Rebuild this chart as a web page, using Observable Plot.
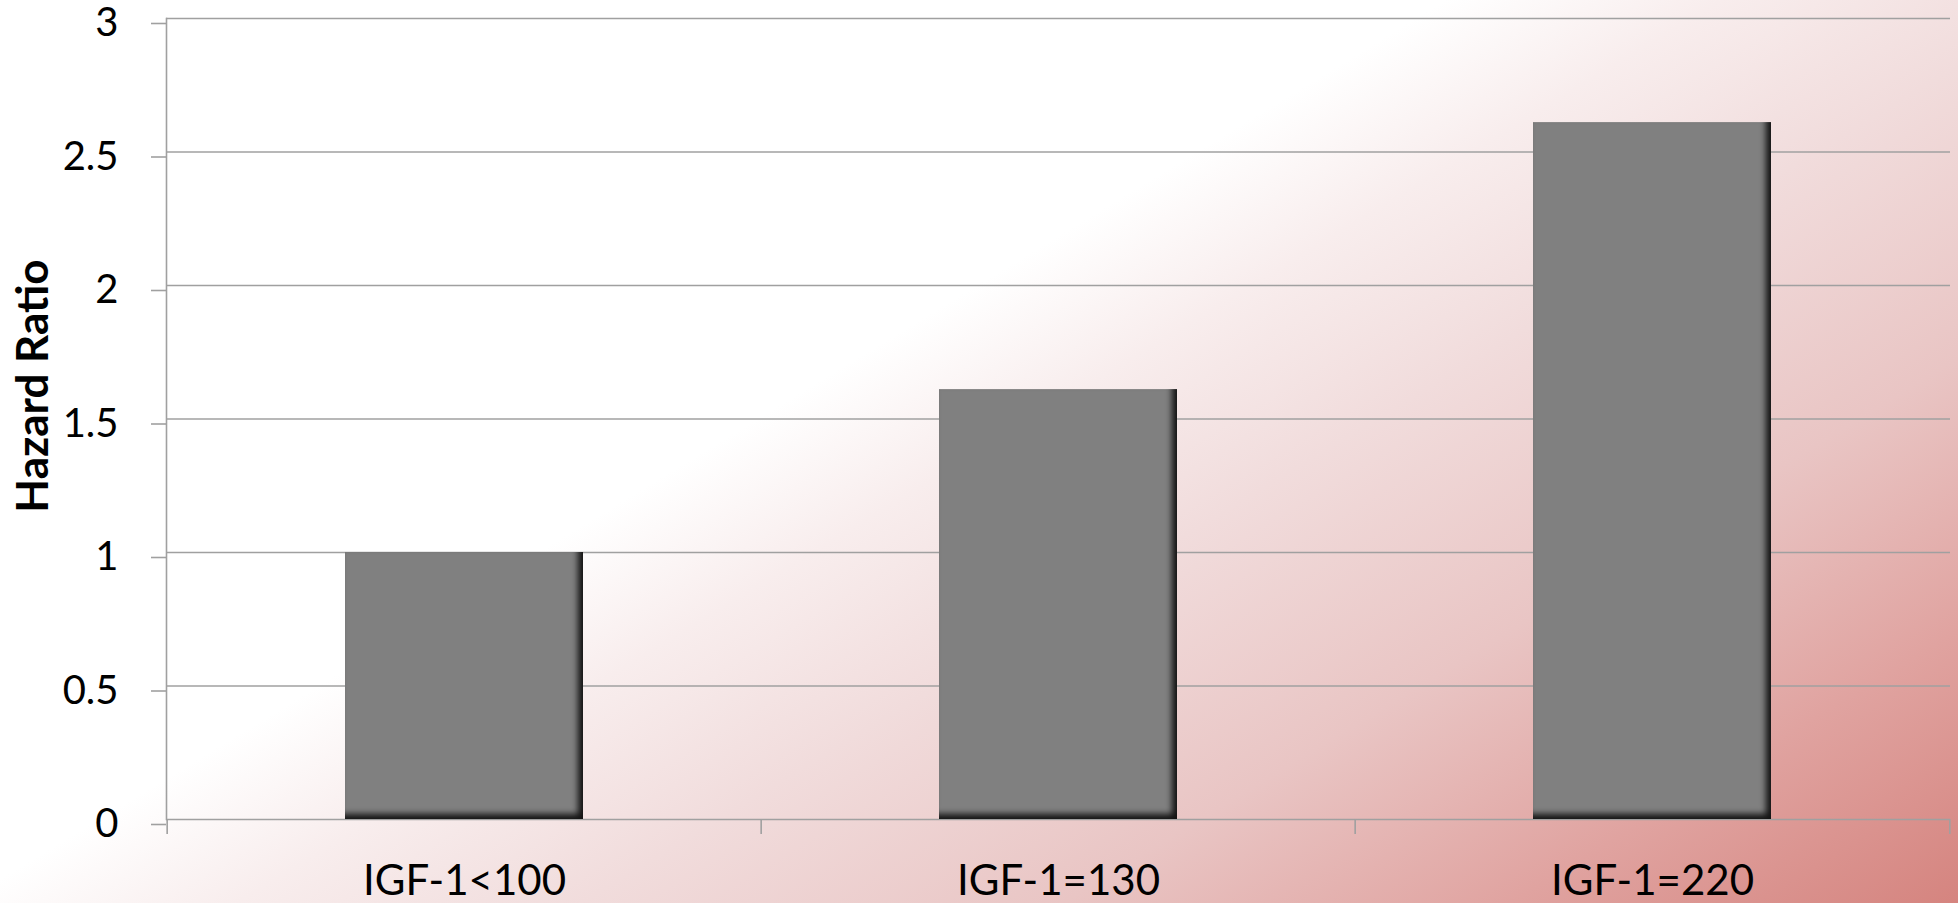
<!DOCTYPE html>
<html>
<head>
<meta charset="utf-8">
<script src="https://cdn.jsdelivr.net/npm/d3@7"></script>
<script src="https://cdn.jsdelivr.net/npm/@observablehq/plot@0.6"></script>
<style>
  html, body { margin: 0; padding: 0; background: #fff; overflow: hidden; }
  #chart { width: 1958px; height: 903px; }
</style>
</head>
<body>
<div id="chart"></div>
<script>
// ---- data ----
const categories = ["IGF-1<100", "IGF-1=130", "IGF-1=220"];
const hazardRatios = [1.0, 1.61, 2.61];
const yTicks = [0, 0.5, 1, 1.5, 2, 2.5, 3];
const yLabel = "Hazard Ratio";

const data = categories.map((c, i) => ({category: c, hr: hazardRatios[i]}));

// ---- layout ----
const W = 1958, H = 903;
const mL = 166, mR = 8, mT = 18, mB = 84;
const step = (W - mL - mR) / categories.length;
const grid = "#a0a0a0";
const gridW = 1.6;
const bg = "linear-gradient(148.7deg, #ffffff 0%, #ffffff 42%, #f8eded 50%, #f1dcdc 60%, #e9c5c4 74%, #e0a3a0 87%, #d5847f 100%)";

const plot = Plot.plot({
  width: W,
  height: H,
  marginLeft: mL,
  marginRight: mR,
  marginTop: mT,
  marginBottom: mB,
  style: {background: bg, fontFamily: "Lato, sans-serif", fontSize: "40px", color: "#000", overflow: "visible"},
  x: {domain: categories, paddingInner: 0.6, paddingOuter: 0.3, label: null},
  y: {domain: [0, 3], label: null},
  marks: [
    Plot.ruleY(yTicks, {stroke: grid, strokeWidth: gridW}),
    Plot.axisY(yTicks, {tickSize: 15, tickPadding: 33, stroke: grid, strokeWidth: gridW, strokeOpacity: 1,
      fill: "#000", fontSize: 40, dy: 5, tickFormat: d => String(d), label: null}),
    Plot.frame({anchor: "left", stroke: grid, strokeWidth: gridW}),
    Plot.axisX(categories, {tickSize: 15, dx: -step / 2, tickFormat: () => "", stroke: grid, strokeWidth: gridW, strokeOpacity: 1, label: null}),
    Plot.axisX([categories[categories.length - 1]], {tickSize: 15, dx: step / 2, tickFormat: () => "", stroke: grid, strokeWidth: gridW, strokeOpacity: 1, label: null}),
    Plot.axisX({tickSize: 0, tickPadding: 46, fontSize: 42, fill: "#000", label: null}),
    Plot.barY(data, {x: "category", y: "hr", fill: "#808080"}),
    Plot.text([yLabel], {frameAnchor: "left", textAnchor: "middle", rotate: -90, dx: -133, dy: -33,
      fontWeight: "bold", fontSize: 44, fill: "#000"})
  ]
});

// inner shadow on bars (dark right and bottom edges)
const ns = "http://www.w3.org/2000/svg";
const defs = document.createElementNS(ns, "defs");
defs.innerHTML = `
  <filter id="innerShadow" x="-8%" y="-8%" width="116%" height="116%" color-interpolation-filters="sRGB">
    <feComponentTransfer in="SourceAlpha" result="inverse">
      <feFuncA type="table" tableValues="1 0"/>
    </feComponentTransfer>
    <feGaussianBlur in="inverse" stdDeviation="3" result="blur"/>
    <feOffset in="blur" dx="-5" dy="-5" result="offset"/>
    <feFlood flood-color="#000" flood-opacity="0.85" result="flood"/>
    <feComposite in="flood" in2="offset" operator="in" result="shadow"/>
    <feComposite in="shadow" in2="SourceAlpha" operator="in" result="inner"/>
    <feMerge><feMergeNode in="SourceGraphic"/><feMergeNode in="inner"/></feMerge>
  </filter>`;
plot.insertBefore(defs, plot.firstChild);
plot.querySelectorAll('g[aria-label="bar"] rect').forEach(r => r.setAttribute("filter", "url(#innerShadow)"));

document.getElementById("chart").appendChild(plot);
</script>
</body>
</html>
